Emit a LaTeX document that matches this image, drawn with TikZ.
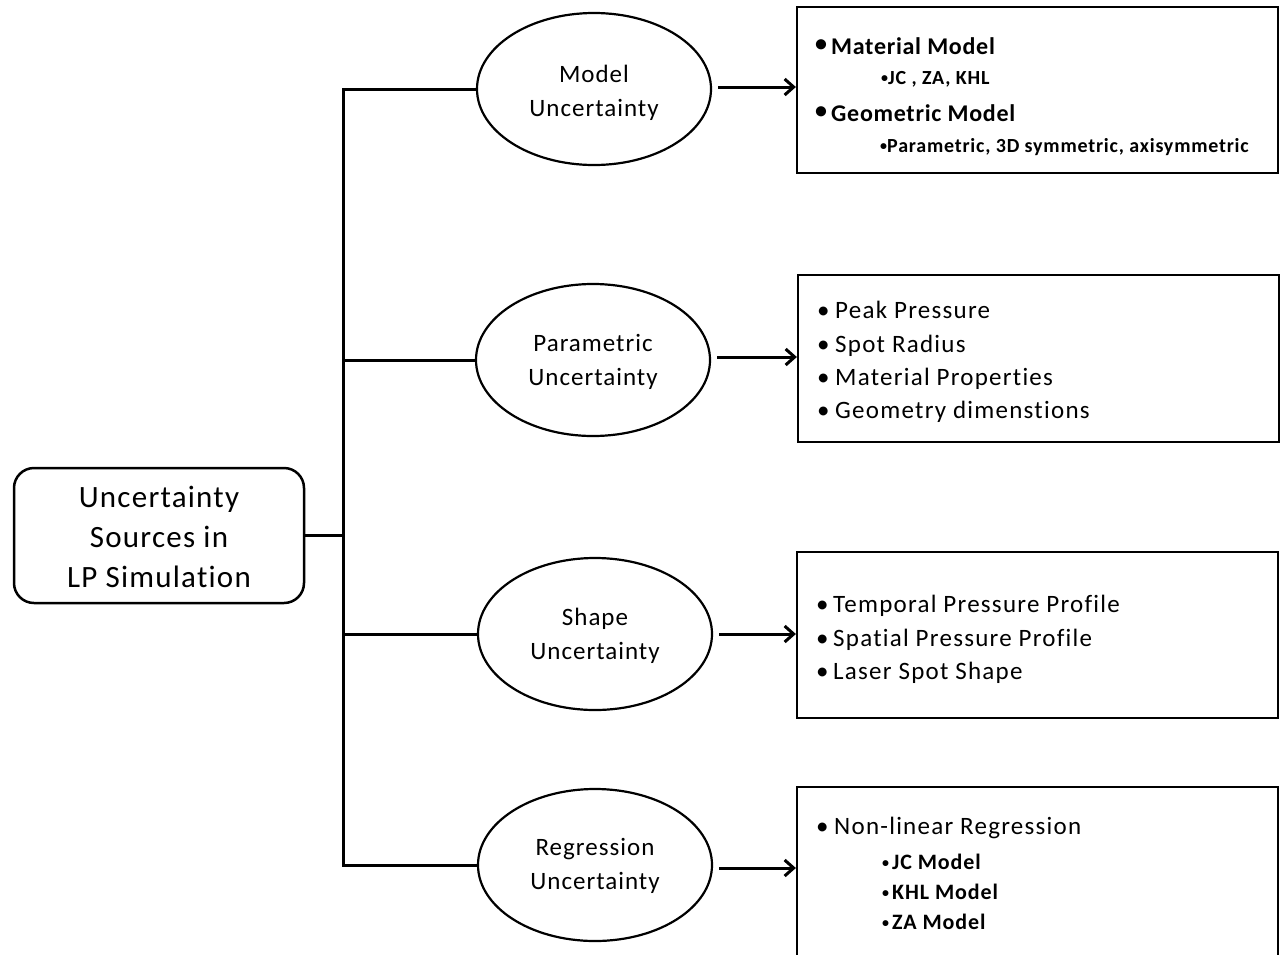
\documentclass[tikz,border=0pt]{standalone}
\usepackage{fontspec}
\setmainfont[Ligatures=NoCommon]{Carlito}
\newfontfamily\lsA[LetterSpace=4,Ligatures=NoCommon]{Carlito}
\newfontfamily\lsB[LetterSpace=3,Ligatures=NoCommon]{Carlito}
\newfontfamily\lsC[LetterSpace=5,Ligatures=NoCommon]{Carlito}
\usetikzlibrary{shapes.geometric,arrows.meta}
\newcommand\bul[1][16pt]{\makebox[#1][l]{•}}
\newcommand\rbul[1][16pt]{\makebox[#1][l]{\raisebox{3pt}{•}}}
\newcommand\sbul[1][7pt]{\makebox[#1][l]{\raisebox{1.5pt}{\fontsize{14}{14}\selectfont •}}}
\begin{document}
\begin{tikzpicture}[x=1pt,y=-1pt,
  conn/.style={line width=3pt},
  arr/.style={line width=3pt,-{Straight Barb[length=9pt,width=16pt]}},
  ell/.style={ellipse,draw,line width=2.2pt,minimum width=234pt,minimum height=152pt,inner sep=0pt},
  etext/.style={inner sep=0pt,align=center,font=\lsA\fontsize{25}{34}\selectfont},
  itembox/.style={draw,line width=2.2pt,minimum width=481pt,inner sep=0pt},
  itm/.style={anchor=base west,inner sep=0pt,font=\lsC\fontsize{25}{30}\selectfont},
  bitm/.style={anchor=base west,inner sep=0pt,font=\lsB\bfseries\fontsize{24}{28}\selectfont},
  sub/.style={anchor=base west,inner sep=0pt,font=\lsA\bfseries\fontsize{20}{24}\selectfont},
  subb/.style={anchor=base west,inner sep=0pt,font=\lsA\bfseries\fontsize{22}{26}\selectfont}]
\useasboundingbox (0,0) rectangle (1280,954);
% root
\node[draw,rounded corners=20pt,line width=2.5pt,minimum width=290pt,minimum height=135pt,inner sep=0pt] (main) at (159,535.5) {};
\node[inner sep=0pt,align=center,font=\lsA\fontsize{31}{40}\selectfont] (maintext) at ([yshift=-1pt]main.center) {Uncertainty\\Sources in\\LP Simulation};
% ellipses
\node[ell] (e1) at (594,89) {};
\node[ell] (e2) at (593,360) {};
\node[ell] (e3) at (595,634) {};
\node[ell] (e4) at (595,865) {};
\node[etext] (l1) at ([yshift=-4pt]e1.center) {Model\\Uncertainty};
\node[etext] (l2) at ([yshift=-2pt]e2.center) {Parametric\\Uncertainty};
\node[etext] (l3) at ([yshift=-2pt]e3.center) {Shape\\Uncertainty};
\node[etext] (l4) at ([yshift=-1pt]e4.center) {Regression\\Uncertainty};
% boxes
\node[itembox,minimum height=166pt] (b1) at (1037.5,90) {};
\node[itembox,minimum height=167pt] (b2) at (1038.5,358.5) {};
\node[itembox,minimum height=166pt] (b3) at (1037.5,635) {};
\node[itembox,minimum height=172pt] (b4) at (1037.5,873) {};
% spine
\coordinate (sx) at (343,0);
\draw[conn] (e1.west) -- (e1.west -| sx) -- (e4.west -| sx) -- (e4.west);
\draw[conn] (e2.west) -- (e2.west -| sx);
\draw[conn] (e3.west) -- (e3.west -| sx);
\draw[conn] (main.east) -- (main.east -| sx);
% arrows
\draw[arr] ([xshift=6pt,yshift=2pt]e1.east) -- ([yshift=2pt]e1.east -| b1.west);
\draw[arr] ([xshift=6pt,yshift=3pt]e2.east) -- ([yshift=3pt]e2.east -| b2.west);
\draw[arr] ([xshift=6pt]e3.east) -- (e3.east -| b3.west);
\draw[arr] ([xshift=6pt,yshift=-3pt]e4.east) -- ([yshift=-3pt]e4.east -| b4.west);
% box 1
\node[bitm] (t11) at (815,54) {\rbul Material Model};
\node[sub] (t12) at (881,84) {\sbul JC , ZA, KHL};
\node[bitm] (t13) at (815,121) {\rbul Geometric Model};
\node[sub] (t14) at (880,152) {\sbul Parametric, 3D symmetric, axisymmetric};
% box 2
\node[itm] (t21) at (817,318) {\bul[18pt]Peak Pressure};
\node[itm] (t22) at (817,352) {\bul[18pt]Spot Radius};
\node[itm] (t23) at (817,385) {\bul[18pt]Material Properties};
\node[itm] (t24) at (817,418) {\bul[18pt]Geometry dimenstions};
% box 3
\node[itm] (t31) at (816,612) {\bul[17pt]Temporal Pressure Profile};
\node[itm] (t32) at (816,646) {\bul[17pt]Spatial Pressure Profile};
\node[itm] (t33) at (816,679) {\bul[17pt]Laser Spot Shape};
% box 4
\node[itm] (t41) at (816,834) {\bul[18pt]Non-linear Regression};
\node[subb] (t42) at (882,869) {\sbul[10pt]JC Model};
\node[subb] (t43) at (882,899) {\sbul[10pt]KHL Model};
\node[subb] (t44) at (882,929) {\sbul[10pt]ZA Model};
\end{tikzpicture}
\end{document}
